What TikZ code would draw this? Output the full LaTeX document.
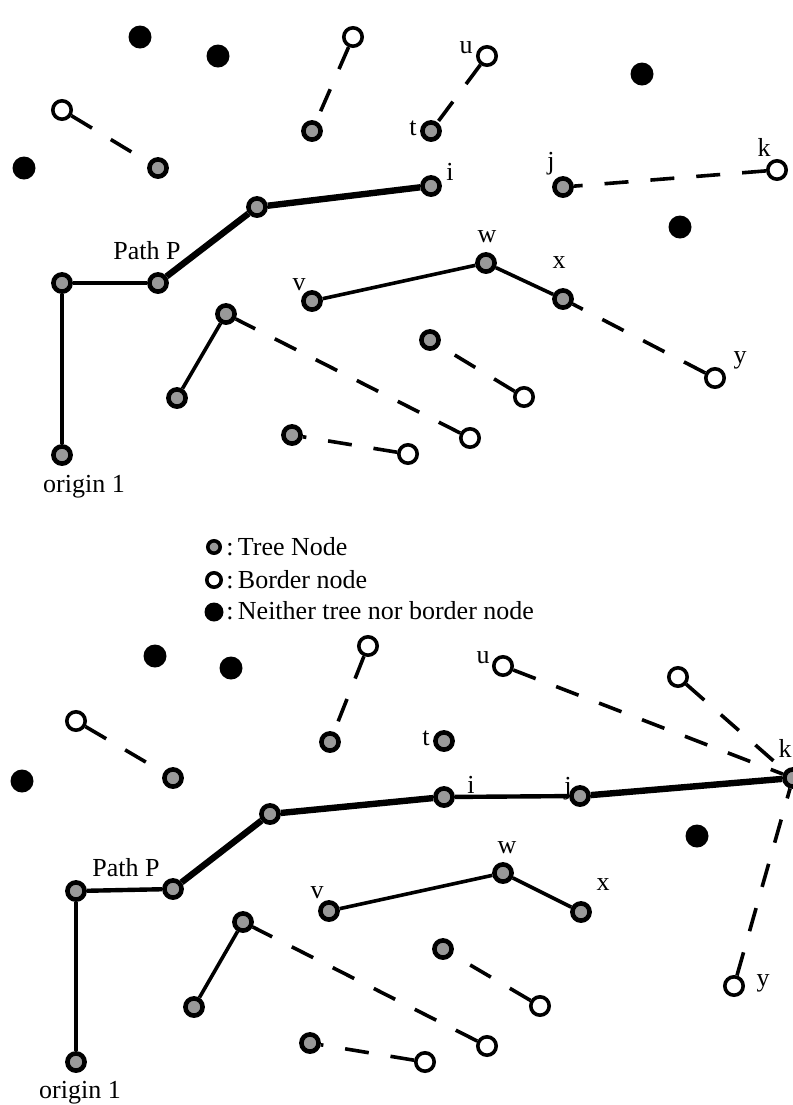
\documentclass[tikz,border=0pt]{standalone}
\usepackage{fontspec}
\setmainfont{Liberation Serif}
\usepackage{tikz}

\tikzset{
  tree/.style={circle, draw, line width=2.3pt, fill=black!40, inner sep=0pt, minimum size=8.6pt},
  border/.style={circle, draw, line width=1.8pt, fill=white, inner sep=0pt, minimum size=9.2pt},
  other/.style={circle, fill=black, inner sep=0pt, minimum size=11.5pt},
  thinedge/.style={line width=1.8pt},
  pathedge/.style={line width=2.2pt},
  thickedge/.style={line width=3.2pt},
  dashedge/.style={line width=1.8pt, dash pattern=on 12pt off 11pt},
  lbl/.style={anchor=base, inner sep=0pt, font=\fontsize{13pt}{15pt}\selectfont},
}

\begin{document}
\begin{tikzpicture}[x=0.5pt, y=-0.5pt]
                        \useasboundingbox (0,0) rectangle (793,1105);

                        % upper picture
                        \node (t0) at (62,455) [tree] {};
                        \node (t1) at (62,283) [tree] {};
                        \node (t2) at (158,283) [tree] {};
                        \node (t3) at (257,207) [tree] {};
                        \node (t4) at (431,186) [tree] {};
                        \node (t5) at (431,131) [tree] {};
                        \node (t6) at (312,131) [tree] {};
                        \node (t7) at (158,168) [tree] {};
                        \node (t8) at (563,187) [tree] {};
                        \node (t9) at (312,301) [tree] {};
                        \node (t10) at (486,263) [tree] {};
                        \node (t11) at (563,299) [tree] {};
                        \node (t12) at (226,314) [tree] {};
                        \node (t13) at (177,398) [tree] {};
                        \node (t14) at (430,340) [tree] {};
                        \node (t15) at (292,435) [tree] {};

                        \node (b0) at (353,37) [border] {};
                        \node (b1) at (487,56) [border] {};
                        \node (b2) at (62,110) [border] {};
                        \node (b3) at (777,170) [border] {};
                        \node (b4) at (715,378) [border] {};
                        \node (b5) at (524,397) [border] {};
                        \node (b6) at (470,438) [border] {};
                        \node (b7) at (408,454) [border] {};

                        \node (n0) at (140,37) [other] {};
                        \node (n1) at (218,56) [other] {};
                        \node (n2) at (24,168) [other] {};
                        \node (n3) at (642,74) [other] {};
                        \node (n4) at (680,227) [other] {};

                        \draw[pathedge] (t0) to (t1);
                        \draw[pathedge] (t1) to (t2);
                        \draw[thickedge] (t2) to (t3);
                        \draw[thickedge] (t3) to (t4);
                        \draw[thinedge] (t9) to (t10);
                        \draw[thinedge] (t10) to (t11);
                        \draw[thinedge] (t12) to (t13);

                        \draw[dashedge] (b0) to (t6);
                        \draw[dashedge] (b1) to (t5);
                        \draw[dashedge] (b2) to (t7);
                        \draw[dashedge] (b3) to (t8);
                        \draw[dashedge] (b4) to (t11);
                        \draw[dashedge] (b5) to (t14);
                        \draw[dashedge] (b6) to (t12);
                        \draw[dashedge] (b7) to (t15);

                        \node (lu) at (466,53) [lbl] {u};
                        \node (lt) at (413,135) [lbl] {t};
                        \node (li) at (450,180) [lbl] {i};
                        \node (lj) at (551,169) [lbl] {j};
                        \node (lk) at (764,156) [lbl] {k};
                        \node (lw) at (487,242) [lbl] {w};
                        \node (lx) at (559,268) [lbl] {x};
                        \node (lv) at (299,290) [lbl] {v};
                        \node (ly) at (740,363) [lbl] {y};
                        \node (lp) at (147,259) [lbl] {Path P};
                        \node (lo) at (84,492) [lbl] {origin 1};

                        % legend
                        \node (k0) at (214,547) [tree, line width=1.8pt, minimum size=6.2pt] {};
                        \node (k1) at (214,580) [border, minimum size=7.2pt] {};
                        \node (k2) at (214,612) [other, minimum size=9.5pt] {};
                        \node (e0) at (226,555) [lbl, anchor=base west] {:\,Tree Node};
                        \node (e1) at (226,588) [lbl, anchor=base west] {:\,Border node};
                        \node (e2) at (226,619) [lbl, anchor=base west] {:\,Neither tree nor border node};

                        % lower picture
                        \node (s0) at (76,1062) [tree] {};
                        \node (s1) at (76,891) [tree] {};
                        \node (s2) at (173,889) [tree] {};
                        \node (s3) at (270,814) [tree] {};
                        \node (s4) at (444,797) [tree] {};
                        \node (s5) at (580,796) [tree] {};
                        \node (s6) at (793,778) [tree] {};
                        \node (s7) at (444,741) [tree] {};
                        \node (s8) at (330,742) [tree] {};
                        \node (s9) at (173,778) [tree] {};
                        \node (s10) at (329,911) [tree] {};
                        \node (s11) at (503,873) [tree] {};
                        \node (s12) at (581,912) [tree] {};
                        \node (s13) at (243,922) [tree] {};
                        \node (s14) at (194,1007) [tree] {};
                        \node (s15) at (443,949) [tree] {};
                        \node (s16) at (310,1043) [tree] {};

                        \node (c0) at (368,646) [border] {};
                        \node (c1) at (503,666) [border] {};
                        \node (c2) at (678,677) [border] {};
                        \node (c3) at (76,721) [border] {};
                        \node (c4) at (734,986) [border] {};
                        \node (c5) at (540,1006) [border] {};
                        \node (c6) at (487,1046) [border] {};
                        \node (c7) at (425,1062) [border] {};

                        \node (m0) at (155,656) [other] {};
                        \node (m1) at (231,668) [other] {};
                        \node (m2) at (22,781) [other] {};
                        \node (m3) at (697,836) [other] {};

                        \draw[pathedge] (s0) to (s1);
                        \draw[pathedge] (s1) to (s2);
                        \draw[thickedge] (s2) to (s3);
                        \draw[thickedge] (s3) to (s4);
                        \draw[pathedge] (s4) to (s5);
                        \draw[thickedge] (s5) to (s6);
                        \draw[thinedge] (s10) to (s11);
                        \draw[thinedge] (s11) to (s12);
                        \draw[thinedge] (s13) to (s14);

                        \draw[dashedge] (c0) to (s8);
                        \draw[dashedge] (c1) to (s6);
                        \draw[dashedge] (c2) to (s6);
                        \draw[dashedge] (c3) to (s9);
                        \draw[dashedge] (c4) to (s6);
                        \draw[dashedge] (c5) to (s15);
                        \draw[dashedge] (c6) to (s13);
                        \draw[dashedge] (c7) to (s16);

                        \node (mu) at (483,663) [lbl] {u};
                        \node (mt) at (426,745) [lbl] {t};
                        \node (mi) at (471,793) [lbl] {i};
                        \node (mj) at (568,794) [lbl] {j};
                        \node (mk) at (785,757) [lbl] {k};
                        \node (mw) at (507,853) [lbl] {w};
                        \node (mx) at (603,890) [lbl] {x};
                        \node (mv) at (317,898) [lbl] {v};
                        \node (my) at (763,986) [lbl] {y};
                        \node (mp) at (126,876) [lbl] {Path P};
                        \node (mo) at (80,1098) [lbl] {origin 1};
                    \end{tikzpicture}
\end{document}
